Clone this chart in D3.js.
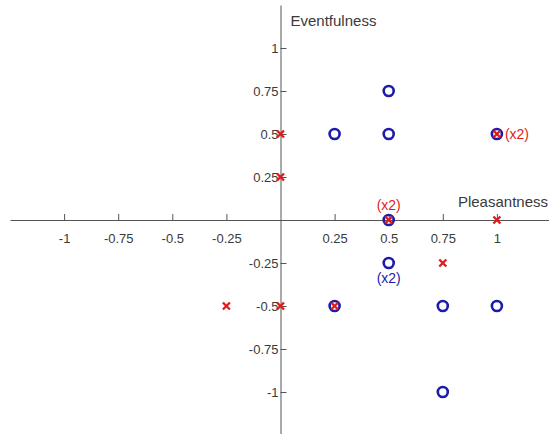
<!DOCTYPE html>
<html>
  <head>
    <meta charset="UTF-8" />
    <title>Pleasantness / Eventfulness</title>
    <style>
      body { margin: 0; background: #fff; }
      text { font-family: "Liberation Sans", Arial, sans-serif; }
    </style>
  </head>
  <body>
    <svg width="549" height="434"></svg>
    <script src="https://d3js.org/d3.v7.min.js"></script>
    <script>
      // data
      var circleX = [0.25, 0.5, 0.5, 1, 0.5, 0.5, 0.25, 0.75, 1, 0.75];
      var circleY = [0.5, 0.5, 0.75, 0.5, 0, -0.25, -0.5, -0.5, -0.5, -1];
      var crossX = [0, 0, 1, 0.5, 1, 0.75, -0.25, 0, 0.25];
      var crossY = [0.5, 0.25, 0.5, 0, 0, -0.25, -0.5, -0.5, -0.5];
      var xTicks = [-1, -0.75, -0.5, -0.25, 0.25, 0.5, 0.75, 1];
      var yTicks = [1, 0.75, 0.5, 0.25, -0.25, -0.5, -0.75, -1];
      // (x2) notes: x, y, colour group
      var noteX = [1, 0.5, 0.5];
      var noteY = [0.5, 0, -0.25];
      var noteSeries = ["cross", "cross", "circle"];

      var svg = d3.select("svg");
      var x = d3.scaleLinear().domain([-1.25, 1.25]).range([10, 551]);
      var y = d3.scaleLinear().domain([1.25, -1.25]).range([5, 435]);

      var axisColor = "#555";
      var textColor = "#3a3a3a";
      var blue = "#1c1ca8";
      var red = "#e01b1b";

      // x axis through y=0, ticks pointing up
      var xAxis = svg.append("g").attr("transform", "translate(0," + y(0) + ")")
        .call(d3.axisTop(x).tickValues(xTicks).tickSize(6).tickSizeOuter(0).tickFormat(String));
      xAxis.select(".domain").attr("stroke", axisColor);
      xAxis.selectAll(".tick line").attr("stroke", axisColor);
      xAxis.selectAll(".tick text").attr("y", 14).attr("dy", "0.71em")
        .style("font-size", "13px").style("fill", textColor);

      // y axis through x=0, ticks pointing right
      var yAxis = svg.append("g").attr("transform", "translate(" + x(0) + ",0)")
        .call(d3.axisRight(y).tickValues(yTicks).tickSize(6).tickSizeOuter(0).tickFormat(String));
      yAxis.select(".domain").attr("stroke", axisColor);
      yAxis.selectAll(".tick line").attr("stroke", axisColor);
      yAxis.selectAll(".tick text").attr("x", -2).attr("text-anchor", "end")
        .style("font-size", "13px").style("fill", textColor);

      // axis names
      svg.append("text").attr("x", x(0) + 10).attr("y", 26).style("font-size", "15px")
        .style("fill", textColor).text("Eventfulness");
      svg.append("text").attr("x", 548).attr("y", y(0) - 13).attr("text-anchor", "end")
        .style("font-size", "15px").style("fill", textColor).text("Pleasantness");

      // circles
      svg.append("g").selectAll("circle").data(d3.range(circleX.length)).enter()
        .append("circle")
        .attr("cx", function (i) { return x(circleX[i]); })
        .attr("cy", function (i) { return y(circleY[i]); })
        .attr("r", 5)
        .attr("fill", "none")
        .attr("stroke", blue)
        .attr("stroke-width", 2.6);

      // crosses
      var s = 3.5;
      svg.append("g").selectAll("path").data(d3.range(crossX.length)).enter()
        .append("path")
        .attr("d", function (i) {
          var cx = x(crossX[i]), cy = y(crossY[i]);
          return "M" + (cx - s) + "," + (cy - s) + "L" + (cx + s) + "," + (cy + s) +
            "M" + (cx - s) + "," + (cy + s) + "L" + (cx + s) + "," + (cy - s);
        })
        .attr("stroke", red)
        .attr("stroke-width", 2.4)
        .attr("fill", "none");

      // (x2) notes
      var notes = svg.append("g");
      d3.range(noteX.length).forEach(function (i) {
        var t = notes.append("text").style("font-size", "14px").text("(x2)")
          .style("fill", noteSeries[i] == "cross" ? red : blue);
        if (i == 0) {
          t.attr("x", x(noteX[i]) + 8).attr("y", y(noteY[i]) + 5);
        } else if (i == 1) {
          t.attr("x", x(noteX[i])).attr("y", y(noteY[i]) - 10).attr("text-anchor", "middle");
        } else {
          t.attr("x", x(noteX[i])).attr("y", y(noteY[i]) + 20).attr("text-anchor", "middle");
        }
      });
    </script>
  </body>
</html>
